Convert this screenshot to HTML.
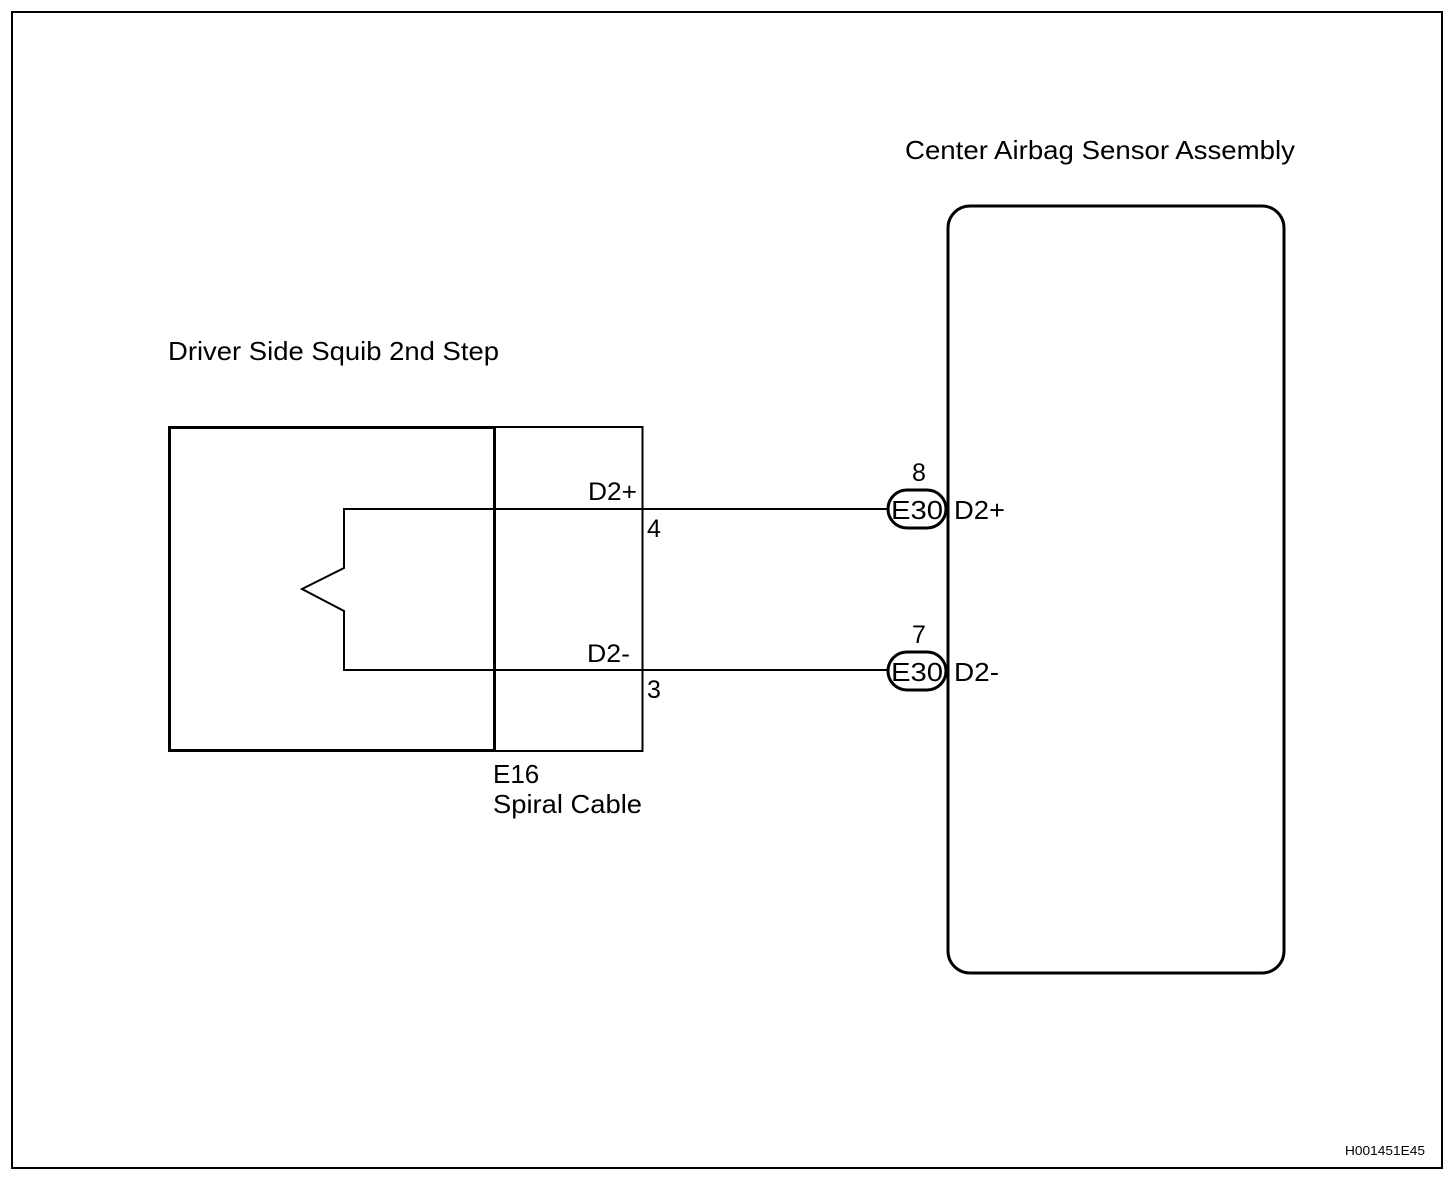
<!DOCTYPE html>
<html><head><style>body{margin:0;background:#fff}svg{display:block}text{font-family:"Liberation Sans",Arial,sans-serif;fill:#000}</style></head><body>
<svg width="1456" height="1180" viewBox="0 0 1456 1180">
<rect x="12" y="12" width="1430" height="1156" fill="none" stroke="#000" stroke-width="2"/>
<text x="905" y="159" font-size="26" textLength="390" lengthAdjust="spacingAndGlyphs">Center Airbag Sensor Assembly</text>
<rect x="948" y="206" width="336" height="767" rx="22" fill="none" stroke="#000" stroke-width="3"/>
<text x="168" y="360" font-size="26" textLength="331" lengthAdjust="spacingAndGlyphs">Driver Side Squib 2nd Step</text>
<rect x="169.5" y="427.5" width="325" height="323" fill="none" stroke="#000" stroke-width="3"/>
<rect x="494.5" y="427" width="148" height="324" fill="none" stroke="#000" stroke-width="2"/>
<polyline points="888,509 344,509 344,568 302,589 344,611 344,670 888,670" fill="none" stroke="#000" stroke-width="2"/>
<text x="588" y="500" font-size="25" textLength="49" lengthAdjust="spacingAndGlyphs">D2+</text>
<text x="587" y="662" font-size="25" textLength="43" lengthAdjust="spacingAndGlyphs">D2-</text>
<text x="647" y="537" font-size="25">4</text>
<text x="647" y="698" font-size="25">3</text>
<text x="493" y="783" font-size="26">E16</text>
<text x="493" y="813" font-size="26" textLength="149" lengthAdjust="spacingAndGlyphs">Spiral Cable</text>
<rect x="888" y="490" width="58" height="38" rx="19" fill="#fff" stroke="#000" stroke-width="3"/>
<text x="891" y="519" font-size="26" textLength="52" lengthAdjust="spacingAndGlyphs">E30</text>
<text x="919" y="481" font-size="25" text-anchor="middle">8</text>
<text x="954" y="519" font-size="26" textLength="51" lengthAdjust="spacingAndGlyphs">D2+</text>
<rect x="888" y="652" width="58" height="38" rx="19" fill="#fff" stroke="#000" stroke-width="3"/>
<text x="891" y="681" font-size="26" textLength="52" lengthAdjust="spacingAndGlyphs">E30</text>
<text x="919" y="643" font-size="25" text-anchor="middle">7</text>
<text x="954" y="681" font-size="26" textLength="45" lengthAdjust="spacingAndGlyphs">D2-</text>
<text x="1345" y="1155" font-size="13" textLength="80" lengthAdjust="spacingAndGlyphs">H001451E45</text>
</svg>
</body></html>
